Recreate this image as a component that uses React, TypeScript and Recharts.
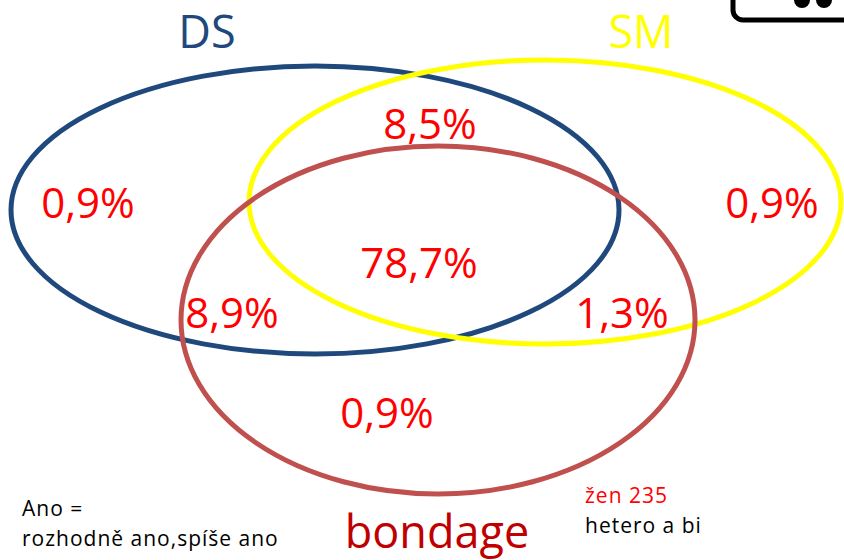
import React from 'react';
import { ScatterChart, Scatter, XAxis, YAxis } from 'recharts';

// sets: name, centre and radii in chart units (0..844 x 0..560)
const setNames = ['DS', 'SM', 'bondage'];
const setCx = [315, 545, 438];
const setCy = [210, 202, 320];
const setRx = [304, 296, 257];
const setRy = [144, 142, 174];
const setColors = ['#1F497D', '#FFFF00', '#C0504D'];

// region shares
const regionLabels = ['8,5%', '0,9%', '0,9%', '78,7%', '8,9%', '1,3%', '0,9%'];
const regionX = [430, 88, 772, 419, 232, 622, 387];
const regionY = [122, 201, 201, 261, 311, 311, 411];

// set titles
const titleLabels = ['DS', 'SM', 'bondage'];
const titleX = [207, 641, 437];
const titleY = [30, 30, 530];
const titleColors = ['#1F497D', '#FFFF00', '#C00000'];

const W = 844;
const H = 560;
const FONT = '"Open Sans", Calibri, sans-serif';

const ellipseData = setNames.map((name, i) => ({
  name, x: setCx[i], y: setCy[i], rx: setRx[i], ry: setRy[i], color: setColors[i],
}));
const regionData = regionLabels.map((label, i) => ({ label, x: regionX[i], y: regionY[i] }));
const titleData = titleLabels.map((label, i) => ({ label, x: titleX[i], y: titleY[i], color: titleColors[i] }));

const EllipseShape = (props: any) => {
  const { cx, cy, payload } = props;
  return <ellipse cx={cx} cy={cy} rx={payload.rx} ry={payload.ry} fill="none" stroke={payload.color} strokeWidth={5} />;
};

const RegionShape = (props: any) => {
  const { cx, cy, payload } = props;
  return (
    <text x={cx} y={cy} textAnchor="middle" dominantBaseline="central" fill="#FF0000" fontSize={42} fontFamily={FONT}>
      {payload.label}
    </text>
  );
};

const TitleShape = (props: any) => {
  const { cx, cy, payload } = props;
  return (
    <text x={cx} y={cy} textAnchor="middle" dominantBaseline="central" fill={payload.color} fontSize={45} fontFamily={FONT}>
      {payload.label}
    </text>
  );
};

const App: React.FC = () => {
  return (
    <div style={{ position: 'absolute', left: 0, top: 0, width: W, height: H, background: '#fff' }}>
      <ScatterChart width={W} height={H} margin={{ top: 0, right: 0, bottom: 0, left: 0 }}>
        <XAxis type="number" dataKey="x" domain={[0, W]} hide />
        <YAxis type="number" dataKey="y" domain={[0, H]} reversed hide />
        <Scatter data={ellipseData} shape={EllipseShape} isAnimationActive={false} />
        <Scatter data={regionData} shape={RegionShape} isAnimationActive={false} />
        <Scatter data={titleData} shape={TitleShape} isAnimationActive={false} />
        {/* corner box from the slide */}
        <rect x={733} y={-30} width={140} height={50} rx={10} fill="none" stroke="#000" strokeWidth={5} />
        <circle cx={802} cy={0} r={8} fill="#000" />
        <circle cx={824} cy={0} r={8} fill="#000" />
        <g fontSize={21} fontFamily={FONT} letterSpacing={1}>
          <text x={22} y={516} fill="#000">Ano =</text>
          <text x={22} y={546} fill="#000">rozhodně ano,spíše ano</text>
          <text x={585} y={503} fill="#FF0000">žen 235</text>
          <text x={585} y={533} fill="#000">hetero a bi</text>
        </g>
      </ScatterChart>
    </div>
  );
};

export default App;
